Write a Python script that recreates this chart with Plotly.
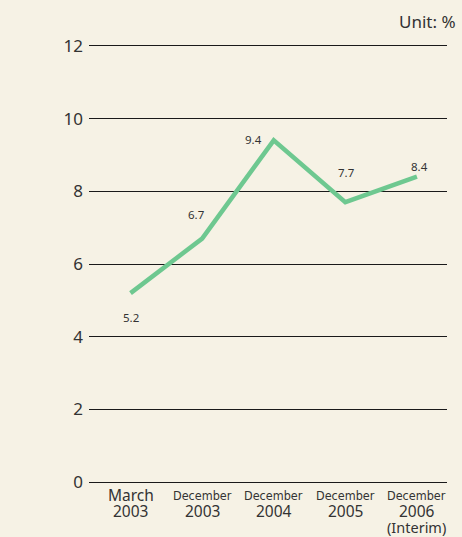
import plotly.graph_objects as go

top_labels = ["March", "December", "December", "December", "December"]
year_labels = ["2003", "2003", "2004", "2005", "2006"]
extra_labels = ["", "", "", "", "(Interim)"]
values = [5.2, 6.7, 9.4, 7.7, 8.4]
value_labels = ["5.2", "6.7", "9.4", "7.7", "8.4"]
label_shift_x = [0, -6, -20, 1, 3]
label_shift_y = [-24, 24, 1, 30, 10]
y_ticks = [0, 2, 4, 6, 8, 10, 12]

xs = list(range(len(values)))
bg = "#f6f2e5"
txt = "#333333"
font_family = "Noto Sans, Open Sans, sans-serif"
narrow_family = "DejaVu Sans Condensed, Noto Sans, sans-serif"

fig = go.Figure()
fig.add_trace(go.Scatter(x=xs, y=values, mode="lines",
                         line=dict(color="#6ec890", width=4.5),
                         hoverinfo="skip", showlegend=False))

for x, v, t, dx, dy in zip(xs, values, value_labels, label_shift_x, label_shift_y):
    fig.add_annotation(x=x, y=v, text=t, showarrow=False, xshift=dx, yshift=dy,
                       font=dict(size=11.5, color=txt, family=font_family))

# category labels (three lines, tight spacing)
for x, top, yr, ex in zip(xs, top_labels, year_labels, extra_labels):
    if top == "March":
        tf = dict(size=15.5, color=txt, family=font_family)
    else:
        tf = dict(size=12.5, color=txt, family=narrow_family)
    fig.add_annotation(x=x, xref="x", yref="paper", y=0, yanchor="middle",
                       yshift=-11, text=top, showarrow=False, font=tf, borderpad=0)
    fig.add_annotation(x=x, xref="x", yref="paper", y=0, yanchor="middle",
                       yshift=-27, text=yr, showarrow=False, borderpad=0,
                       font=dict(size=15.5, color=txt, family=font_family))
    if ex:
        fig.add_annotation(x=x, xref="x", yref="paper", y=0, yanchor="middle",
                           yshift=-43, text=ex, showarrow=False, borderpad=0,
                           font=dict(size=14.5, color=txt, family=font_family))

fig.add_annotation(xref="paper", yref="paper", x=1.031, y=1.05, xanchor="right",
                   yanchor="middle", text="Unit: %", showarrow=False,
                   font=dict(size=17, color=txt, family=font_family))

fig.update_layout(
    width=462, height=537,
    margin=dict(l=89, r=15, t=44, b=53),
    paper_bgcolor=bg, plot_bgcolor=bg,
    font=dict(family=font_family, color=txt),
    xaxis=dict(range=[-0.58, 4.42], tickmode="array", tickvals=xs,
               showticklabels=False,
               showgrid=False, zeroline=False, showline=False, ticks="",
               automargin=False, fixedrange=True),
    yaxis=dict(range=[-0.05, 12.05], tickmode="array", tickvals=y_ticks,
               showgrid=True, gridcolor="#1a1a1a", gridwidth=1, zeroline=False,
               showline=False, ticks="", ticklabelstandoff=5, automargin=False,
               tickfont=dict(size=17, color=txt), fixedrange=True),
)

fig.write_html("out.html", config={"displayModeBar": False},
               post_script="document.body.style.margin='0';document.body.style.overflow='hidden';")
